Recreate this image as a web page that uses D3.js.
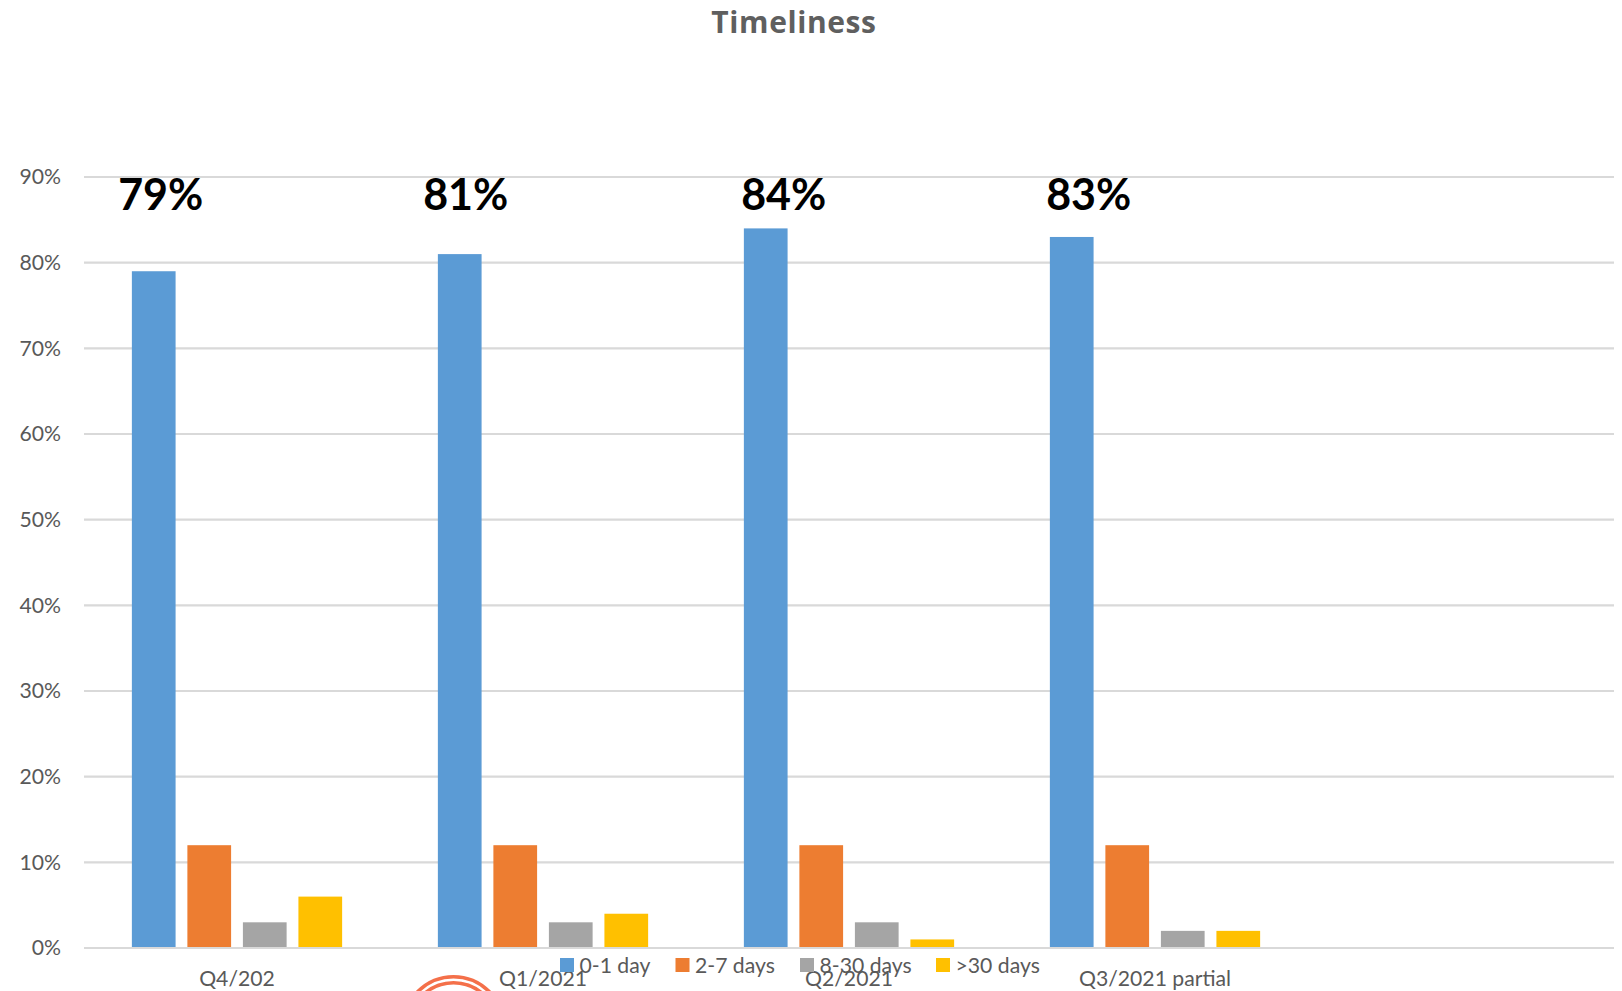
<!DOCTYPE html>
<html>
<head>
<meta charset="utf-8">
<script src="https://cdn.jsdelivr.net/npm/d3@7"></script>
<style>
  html, body { margin: 0; padding: 0; background: #fff; overflow: hidden; }
  svg { display: block; }
  text { font-family: Lato, "Open Sans", sans-serif; }
</style>
</head>
<body>
<svg id="chart" width="1622" height="991"></svg>
<script>
// Share of records by time-to-report bucket, per quarter.
const categories = ["Q4/202", "Q1/2021", "Q2/2021", "Q3/2021 partial", ""];
const seriesNames = ["0-1 day", "2-7 days", "8-30 days", ">30 days"];
const seriesColors = ["#5b9bd5", "#ed7d31", "#a5a5a5", "#ffc000"];
const sameDay = [79, 81, 84, 83];
const withinWeek = [12, 12, 12, 12];
const withinMonth = [3, 3, 3, 2];
const overMonth = [6, 4, 1, 2];
const yTicks = [0, 10, 20, 30, 40, 50, 60, 70, 80, 90];
// Callouts sit in hand-placed boxes, nudged right of their bar.
const calloutNudge = [7, 6, 18, 17];

const seriesValues = [sameDay, withinWeek, withinMonth, overMonth];
const svg = d3.select("#chart");
const grey = "#595959";

const x0 = d3.scaleBand().domain(categories).range([84, 1614])
  .paddingInner(2.19 / 7).paddingOuter(2.19 / 14);
const x1 = d3.scaleBand().domain(seriesNames).range([0, x0.bandwidth()])
  .paddingInner(0.27 / 1.27).paddingOuter(0);
const y = d3.scaleLinear().domain([0, 90]).range([948, 177]);

// Gridlines and value axis
const yAxis = d3.axisLeft(y).tickValues(yTicks).tickSize(0).tickPadding(23)
  .tickFormat(d => d + "%");
const yG = svg.append("g").attr("transform", "translate(84,0)").call(yAxis);
yG.select(".domain").remove();
yG.selectAll("text").attr("font-size", 21.2).attr("fill", grey)
  .style("font-family", "Lato, sans-serif");
svg.append("g").selectAll("line").data(yTicks).join("line")
  .attr("x1", 84).attr("x2", 1614)
  .attr("y1", d => y(d)).attr("y2", d => y(d))
  .attr("stroke", "#d9d9d9").attr("stroke-width", 2.2);

// Clustered bars
seriesNames.forEach((name, s) => {
  svg.append("g").selectAll("rect").data(seriesValues[s]).join("rect")
    .attr("x", (d, i) => x0(categories[i]) + x1(name))
    .attr("y", d => y(d))
    .attr("width", x1.bandwidth())
    .attr("height", d => y(0) - y(d) - 1)
    .attr("fill", seriesColors[s]);
});

// Category labels
const xAxis = d3.axisBottom(x0).tickSize(0).tickPadding(23);
const xG = svg.append("g").attr("transform", "translate(0,948)").call(xAxis);
xG.select(".domain").remove();
xG.selectAll("text").attr("font-size", 21.2).attr("fill", grey)
  .style("font-family", "Lato, sans-serif");

// Badge mark at the lower edge of the page, cut off by the frame
svg.append("g").attr("fill", "none").attr("stroke", "#f4704a")
  .selectAll("circle").data([50, 44]).join("circle")
  .attr("cx", 453.5).attr("cy", 1026.7).attr("r", d => d).attr("stroke-width", 3.6);

// Legend
const legendSwatchX = [560, 675.5, 800, 936];
const legend = svg.append("g").selectAll("g").data(seriesNames).join("g")
  .attr("transform", (d, i) => `translate(${legendSwatchX[i]},958)`);
legend.append("rect").attr("width", 14).attr("height", 14)
  .attr("fill", (d, i) => seriesColors[i]);
legend.append("text").attr("x", 19.5).attr("y", 15).attr("font-size", 21.2)
  .attr("fill", grey).text(d => d);

// Title
svg.append("text").attr("x", 794).attr("y", 32.5).attr("text-anchor", "middle")
  .attr("font-size", 30).attr("font-weight", 700).attr("letter-spacing", 0.6).attr("fill", "#5f5f5f")
  .style("font-family", "'Open Sans', sans-serif").text("Timeliness");

// Large percentage callouts for the fastest bucket
svg.append("g").selectAll("text").data(sameDay).join("text")
  .attr("x", (d, i) => x0(categories[i]) + x1(seriesNames[0]) + x1.bandwidth() / 2 + calloutNudge[i])
  .attr("y", 210).attr("text-anchor", "middle")
  .attr("font-size", 43).attr("font-weight", 700).attr("fill", "#000")
  .text(d => d + "%");
</script>
</body>
</html>
